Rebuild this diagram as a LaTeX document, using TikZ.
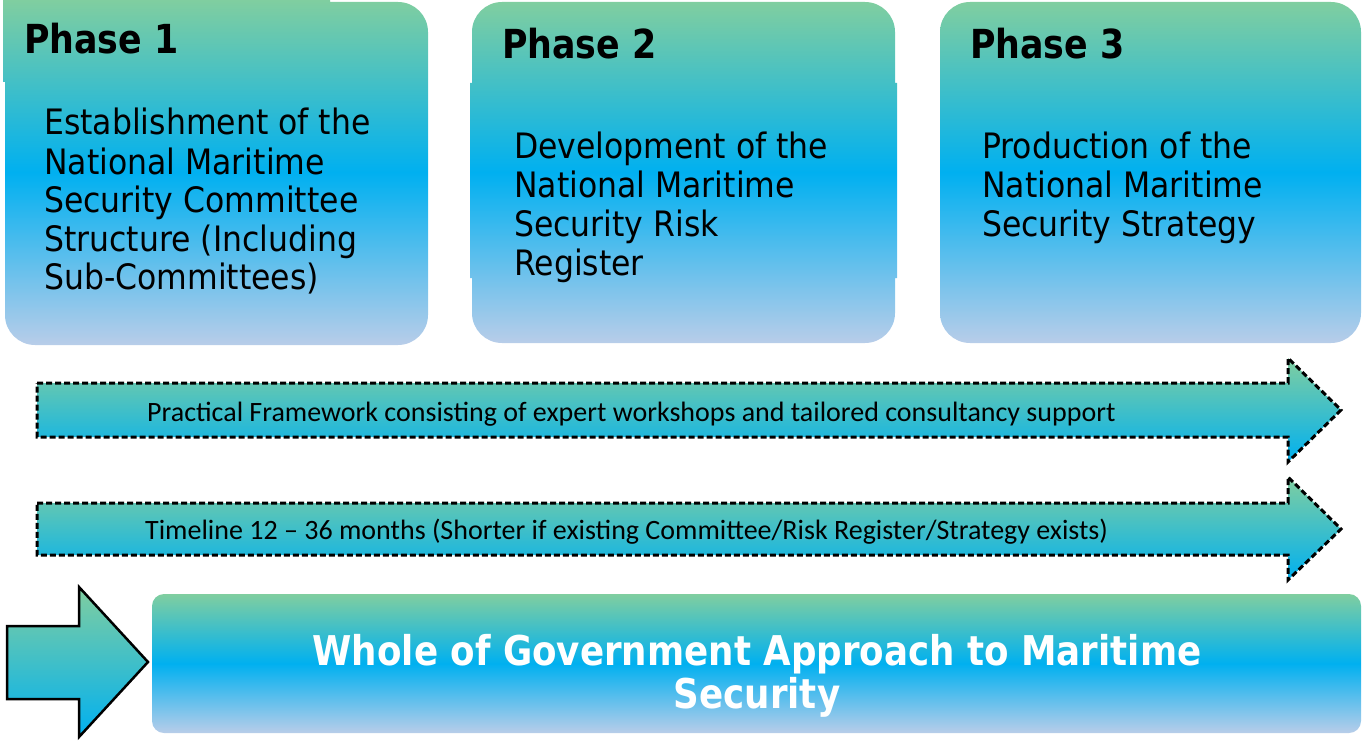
\documentclass[tikz,border=0pt]{standalone}
\usepackage{fontspec}
\newfontfamily\tah[FakeStretch=0.9]{DejaVu Sans}
\newfontfamily\tahb[FakeStretch=0.87]{DejaVu Sans}
\newfontfamily\calib{Carlito}
\definecolor{cgreen}{RGB}{128,206,160}
\definecolor{cblue}{RGB}{0,176,240}
\definecolor{clight}{RGB}{184,205,233}
\pgfdeclareverticalshading{boxshade}{100bp}{color(0bp)=(clight); color(25bp)=(clight); color(50bp)=(cblue); color(75bp)=(cgreen); color(100bp)=(cgreen)}
\pgfdeclareverticalshading{arrshade}{100bp}{color(0bp)=(cblue); color(25bp)=(cblue); color(75bp)=(cgreen); color(100bp)=(cgreen)}
\begin{document}
\begin{tikzpicture}[x=1pt,y=-1pt,
  boxfill/.style={shading=boxshade},
  dasharrow/.style={shading=arrshade, draw=black, line width=3pt, dash pattern=on 6pt off 3pt, line join=miter},
  solidarrow/.style={shading=arrshade, draw=black, line width=2.5pt, line join=miter},
  head/.style={font=\tahb\bfseries\fontsize{40}{48}\selectfont, anchor=base west, inner sep=0pt},
  body/.style={font=\tah\fontsize{35}{42}\selectfont, anchor=base west, inner sep=0pt},
  arrtext/.style={font=\calib\fontsize{28}{34}\selectfont, anchor=base west, inner sep=0pt},
  bigtext/.style={font=\tahb\bfseries\fontsize{41}{48}\selectfont, text=white, anchor=base, inner sep=0pt}]
\useasboundingbox (0,0) rectangle (1362,741);
% phase boxes
\shade[boxfill] [rounded corners=30pt] (5,2) rectangle (428,345) [sharp corners] (3,0) rectangle (330,82);
\shade[boxfill] [rounded corners=30pt] (472,2) rectangle (895,343) [sharp corners] (470,83) rectangle (897,278);
\shade[boxfill] [rounded corners=30pt] (940,2) rectangle (1361,343);
% phase texts
\node[head] (h1) at (24,54) {Phase 1};
\node[body] (p1a) at (44,135) {Establishment of the};
\node[body] (p1b) at (44,174) {National Maritime};
\node[body] (p1c) at (44,212) {Security Committee};
\node[body] (p1d) at (44,251) {Structure (Including};
\node[body] (p1e) at (44,289) {Sub-Committees)};
\node[head] (h2) at (502,59) {Phase 2};
\node[body] (p2a) at (514,158) {Development of the};
\node[body] (p2b) at (514,197) {National Maritime};
\node[body] (p2c) at (514,236) {Security Risk};
\node[body] (p2d) at (514,275) {Register};
\node[head] (h3) at (970,59) {Phase 3};
\node[body] (p3a) at (982,158) {Production of the};
\node[body] (p3b) at (982,197) {National Maritime};
\node[body] (p3c) at (982,236) {Security Strategy};
% dashed arrows
\shadedraw[dasharrow] (37,383) -- (1288,383) -- (1288,358) -- (1341,410) -- (1288,462) -- (1288,437) -- (37,437) -- cycle;
\shadedraw[dasharrow] (37,503) -- (1288,503) -- (1288,477) -- (1341,529) -- (1288,580) -- (1288,555) -- (37,555) -- cycle;
\node[arrtext] (a1) at (147,421) {Practical Framework consisting of expert workshops and tailored consultancy support};
\node[arrtext] (a2) at (145,539) {Timeline 12 – 36 months (Shorter if existing Committee/Risk Register/Strategy exists)};
% bottom
\shadedraw[solidarrow] (7,626) -- (79,626) -- (79,587) -- (148,662) -- (79,737) -- (79,699) -- (7,699) -- cycle;
\shade[boxfill, rounded corners=12pt] (152,594) rectangle (1361,733);
\node[bigtext] (w1) at (757,665) {Whole of Government Approach to Maritime};
\node[bigtext] (w2) at (757,708) {Security};
\end{tikzpicture}
\end{document}
